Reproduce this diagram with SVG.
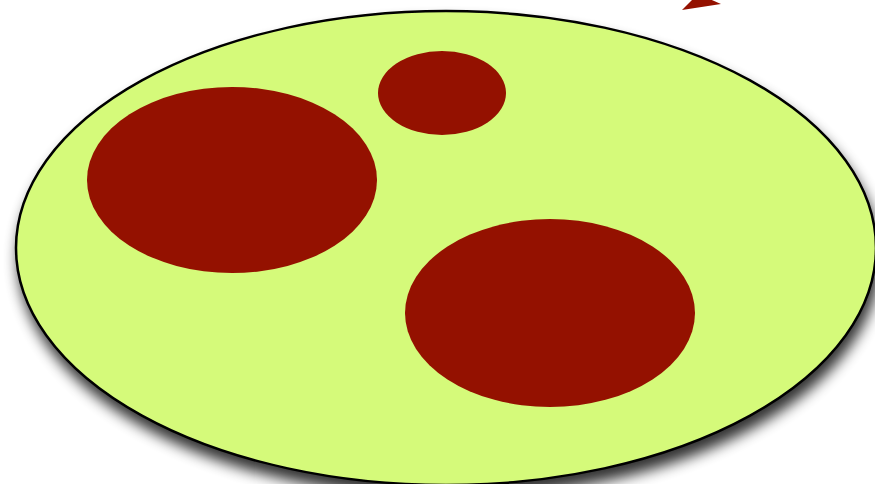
<svg xmlns="http://www.w3.org/2000/svg" width="875" height="484" viewBox="0 0 875 484">
<defs>
<filter id="sh" x="-10%" y="-10%" width="130%" height="130%">
<feGaussianBlur in="SourceAlpha" stdDeviation="7"/>
<feOffset dx="3" dy="11" result="b"/>
<feComponentTransfer><feFuncA type="linear" slope="0.8"/></feComponentTransfer>
<feMerge><feMergeNode/><feMergeNode in="SourceGraphic"/></feMerge>
</filter>
<style>.spot{fill:#941100;}</style>
</defs>
<rect width="875" height="484" fill="#ffffff"/>
<g id="plate">
<ellipse cx="446" cy="248" rx="430" ry="237" fill="#d5fa7a" stroke="#000" stroke-width="2.5" filter="url(#sh)"/>
</g>
<g id="spots">
<ellipse id="spot-small" class="spot" cx="442" cy="93" rx="64" ry="42"/>
<ellipse id="spot-left" class="spot" cx="232" cy="180" rx="145" ry="93"/>
<ellipse id="spot-right" class="spot" cx="550" cy="313" rx="145" ry="94"/>
</g>
<g id="pointer">
<polygon class="spot" points="682,10 721,4 698,-6"/>
</g>
</svg>
